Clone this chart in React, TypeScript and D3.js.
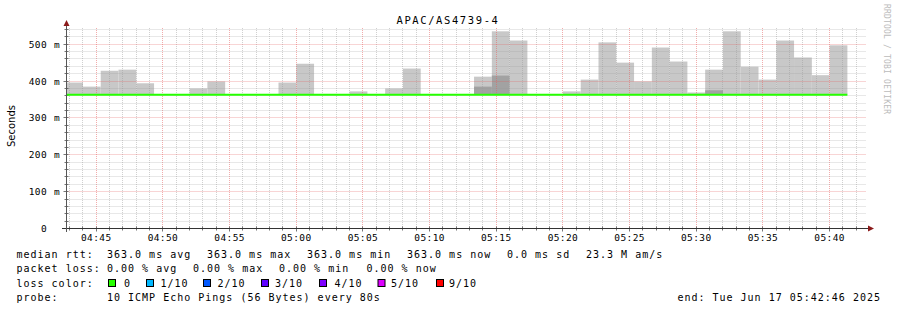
import React from "react";
import * as d3 from "d3";

const title = "APAC/AS4739-4";
const startTime = "04:42:46";
const endTime = "05:42:46";
const firstBarEnd = "04:44:00";
const stepSeconds = 80;
const medianRtt = 363;
// upper edge of the light smoke (ms) for each 80 s step; null = no smoke above median
const smokeMax: (number | null)[] = [
  396, 385, 428, 431, 394, null, null, 380, 399, null, null, null, 396, 447, null, null,
  372, null, 380, 434, null, null, null, 412, 535, 510, null, null, 372, 404, 505, 450,
  399, 491, 453, 369, 431, 535, 439, 404, 510, 464, 416, 497,
];
// upper edge of the darker smoke band (ms)
const smokeDark: (number | null)[] = smokeMax.map((_, i) =>
  i === 23 ? 385 : i === 24 ? 415 : i === 36 ? 375 : null
);
const xTickLabels = ["04:45", "04:50", "04:55", "05:00", "05:05", "05:10", "05:15", "05:20", "05:25", "05:30", "05:35", "05:40"];
const yTickValues = [0, 100, 200, 300, 400, 500];
const yTickNumbers = ["0", "100", "200", "300", "400", "500"];

const rttRow = ["median rtt:", "363.0 ms avg", "363.0 ms max", "363.0 ms min", "363.0 ms now", "0.0 ms sd", "23.3 M am/s"];
const lossRow = ["packet loss:", "0.00 % avg", "0.00 % max", "0.00 % min", "0.00 % now"];
const lossLabels = ["0", "1/10", "2/10", "3/10", "4/10", "5/10", "9/10"];
const lossColors = ["#26ff00", "#00b8ff", "#0059ff", "#5e00ff", "#7e00ff", "#dd00ff", "#ff0000"];
const probeRow = ["probe:", "10 ICMP Echo Pings (56 Bytes) every 80s"];
const endLabel = "end: Tue Jun 17 05:42:46 2025";

const toSec = (s: string) => {
  const [h, m, sec] = s.split(":").map(Number);
  return h * 3600 + m * 60 + (sec || 0);
};

const MONO = "'DejaVu Sans Mono', monospace";

export default function App() {
  const W = 897, H = 310;
  const left = 66.5, right = 866.5, top = 28, bottom = 228.5;
  const t0 = toSec(startTime), t1 = toSec(endTime);
  const x = d3.scaleLinear().domain([t0, t1]).range([left, right]);
  const y = d3.scaleLinear().domain([0, 544]).range([bottom, top]);
  const fb = toSec(firstBarEnd);

  const bars = smokeMax.map((v, i) => {
    const e = fb + stepSeconds * i;
    const s = Math.max(t0, e - stepSeconds);
    return { s, e, v, d: smokeDark[i] };
  });
  const lastEnd = bars[bars.length - 1].e;

  const minorX = d3.range(Math.ceil(t0 / 60) * 60, t1, 60);
  const minorY = d3.range(0, 544, 20);
  const snap = (v: number) => Math.round(v - 0.5) + 0.5;

  const medLine = d3.line<[number, number]>()([
    [x(t0), y(medianRtt)],
    [x(lastEnd), y(medianRtt)],
  ]);

  const legendY = [258, 272.3, 286.5, 300.6];
  const rttX = [16.5, 107, 207, 307, 407, 507, 586];
  const lossX = [16.5, 107, 193, 279, 366.5];
  const boxX = [108, 146, 203, 261, 319, 377.5, 436];
  const boxLabelX = [124, 160.5, 217.5, 275, 334.5, 391, 449];

  return (
    <svg width={W} height={H} style={{ position: "absolute", left: 0, top: 0, background: "#fff" }}>
      <rect x={0} y={0} width={W} height={H} fill="#fff" />
      {/* smoke */}
      {bars.map((b, i) =>
        b.v != null ? (
          <rect key={"l" + i} x={x(b.s)} y={y(b.v)} width={x(b.e) - x(b.s)} height={y(medianRtt) - y(b.v)} fill="#c8c8c8" />
        ) : null
      )}
      {bars.map((b, i) =>
        b.d != null ? (
          <rect key={"d" + i} x={x(b.s)} y={y(b.d)} width={x(b.e) - x(b.s)} height={y(medianRtt) - y(b.d)} fill="#a2a2a2" />
        ) : null
      )}
      {/* grid */}
      {minorX.map((t) => {
        const major = t % 300 === 0;
        const px = snap(x(t));
        return (
          <g key={"gx" + t}>
            <line x1={px} x2={px} y1={top} y2={bottom} stroke={major ? "rgba(230,90,90,0.5)" : "rgba(150,150,150,0.45)"} strokeDasharray="1,1" />
            <line x1={px} x2={px} y1={bottom - 2} y2={bottom + (major ? 3 : 2)} stroke="#555" strokeWidth={1} opacity={0.8} />
          </g>
        );
      })}
      {minorY.slice(1).map((v) => {
        const major = v % 100 === 0;
        const py = snap(y(v));
        return (
          <g key={"gy" + v}>
            <line x1={left} x2={right} y1={py} y2={py} stroke={major ? "rgba(230,90,90,0.5)" : "rgba(150,150,150,0.45)"} strokeDasharray="1,1" />
            <line x1={left - (major ? 3 : 2)} x2={left + 2} y1={py} y2={py} stroke="#555" opacity={0.8} />
          </g>
        );
      })}
      {/* median */}
      <path d={medLine || ""} stroke="#26ff00" strokeWidth={2} fill="none" />
      {/* axes */}
      <line x1={62} x2={870} y1={bottom} y2={bottom} stroke="#333" />
      <line x1={left} x2={left} y1={232} y2={24} stroke="#555" />
      <path d={`M${left - 3},26 L${left + 3},26 L${left},20 Z`} fill="#8b1a1a" />
      <path d={`M868,${bottom - 3} L868,${bottom + 3} L874,${bottom} Z`} fill="#8b1a1a" />
      {/* y ticks */}
      {yTickValues.map((v, i) => (
        <g key={"yt" + v} fontFamily={MONO} fontSize={9.5} fill="#000">
          <text x={47} y={y(v) + 3.5} textAnchor="end" letterSpacing={0.4}>{yTickNumbers[i]}</text>
          {v !== 0 && <text x={54} y={y(v) + 3.5}>m</text>}
        </g>
      ))}
      {/* x ticks */}
      {xTickLabels.map((l) => (
        <text key={l} x={x(toSec(l))} y={241} textAnchor="middle" fontFamily={MONO} fontSize={9.5} letterSpacing={0.4}>{l}</text>
      ))}
      {/* title */}
      <text x={448} y={24.3} textAnchor="middle" fontFamily={MONO} fontSize={10.5} letterSpacing={1.6}>{title}</text>
      <text transform="translate(14.5,126) rotate(-90)" textAnchor="middle" fontFamily="'DejaVu Sans', sans-serif" fontSize={10}>Seconds</text>
      <text transform="translate(884,4) rotate(90)" fontFamily={MONO} fontSize={8} fill="#bbb" textLength={110} lengthAdjust="spacing">RRDTOOL / TOBI OETIKER</text>
      {/* legend */}
      <g fontFamily={MONO} fontSize={10} letterSpacing={1} fill="#000">
        {rttRow.map((s, i) => (
          <text key={"r" + i} x={rttX[i]} y={legendY[0]} style={{ whiteSpace: "pre" }}>{s}</text>
        ))}
        {lossRow.map((s, i) => (
          <text key={"p" + i} x={lossX[i]} y={legendY[1]}>{s}</text>
        ))}
        <text x={16.5} y={legendY[2]}>loss color:</text>
        {lossLabels.map((l, i) => (
          <g key={"lc" + i}>
            <rect x={boxX[i] + 0.5} y={279.5} width={7} height={7} fill={lossColors[i]} stroke="#000" />
            <text x={boxLabelX[i]} y={legendY[2]}>{l}</text>
          </g>
        ))}
        <text x={16.5} y={legendY[3]}>{probeRow[0]}</text>
        <text x={107} y={legendY[3]}>{probeRow[1]}</text>
        <text x={881} y={legendY[3]} textAnchor="end">{endLabel}</text>
      </g>
    </svg>
  );
}
